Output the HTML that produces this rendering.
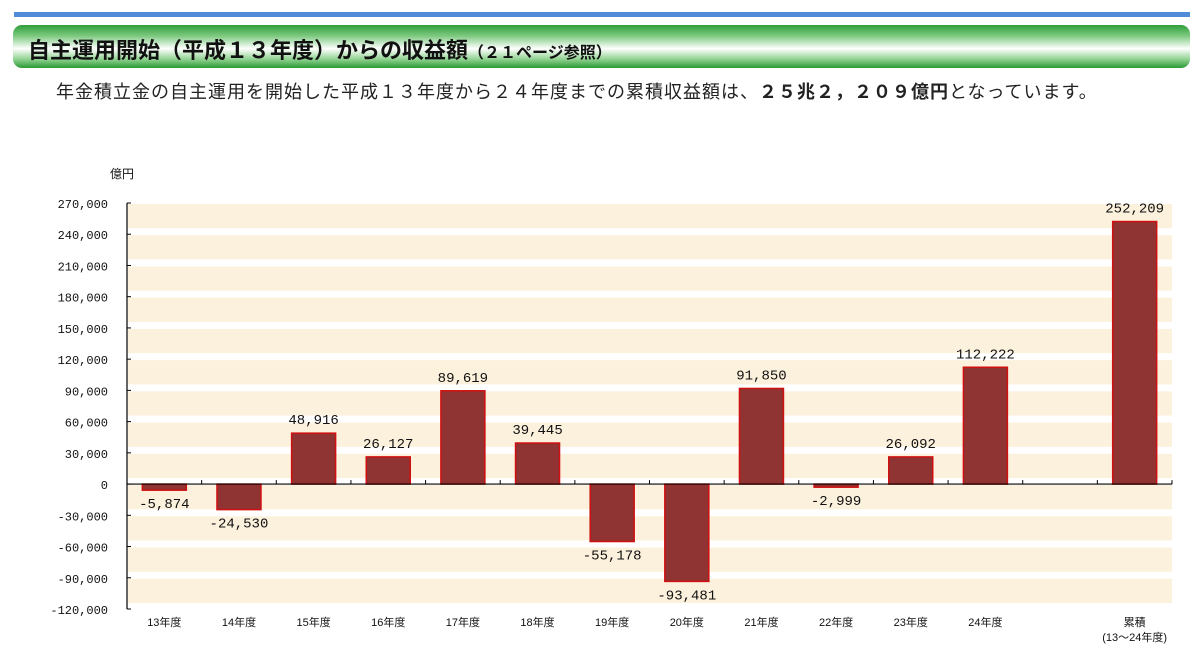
<!DOCTYPE html>
<html><head><meta charset="utf-8"><style>
body{margin:0;width:1200px;height:650px;background:#fff;font-family:"Liberation Sans","Noto Sans CJK JP",sans-serif;overflow:hidden;position:relative}
#topline{position:absolute;left:14px;top:12px;width:1176px;height:5px;background:#4f8bd6}
#band{position:absolute;left:13px;top:25px;width:1177px;height:43px;border-radius:9px;background:linear-gradient(#2f9e3a 0%,#7cc97f 25%,#ffffff 55%,#8fd18f 80%,#2a9a35 100%)}
#title{position:absolute;left:28px;top:33px;font-size:22px;font-weight:bold;color:#111;white-space:nowrap}
#title small{font-size:16px}
#sub{position:absolute;left:56px;top:78px;font-size:18px;color:#222;letter-spacing:1px;white-space:nowrap}
</style></head><body>
<div id="topline"></div>
<div id="band"></div>
<div id="title">自主運用開始（平成１３年度）からの収益額<small>（２１ページ参照）</small></div>
<div id="sub">年金積立金の自主運用を開始した平成１３年度から２４年度までの累積収益額は、<b>２５兆２，２０９億円</b>となっています。</div>
<svg id="chart" width="1200" height="650" style="position:absolute;left:0;top:0"></svg>
<script>
const categories=["13年度","14年度","15年度","16年度","17年度","18年度","19年度","20年度","21年度","22年度","23年度","24年度","","累積"];
const values=[-5874,-24530,48916,26127,89619,39445,-55178,-93481,91850,-2999,26092,112222,null,252209];
const valueLabels=["-5,874","-24,530","48,916","26,127","89,619","39,445","-55,178","-93,481","91,850","-2,999","26,092","112,222","","252,209"];
const yTicks=[270000,240000,210000,180000,150000,120000,90000,60000,30000,0,-30000,-60000,-90000,-120000];
const yTickLabels=["270,000","240,000","210,000","180,000","150,000","120,000","90,000","60,000","30,000","0","-30,000","-60,000","-90,000","-120,000"];
const NS="http://www.w3.org/2000/svg",svg=document.getElementById('chart');
const X0=127,X1=1172,yMax=270000,yMin=-120000,YT=203,YB=609;
const slot=(X1-X0)/categories.length;
const y=v=>YT+(yMax-v)/(yMax-yMin)*(YB-YT);
const xc=i=>X0+slot*(i+0.5);
const MONO='"Liberation Mono","Noto Sans CJK JP",monospace';
function mk(t,a,txt){const e=document.createElementNS(NS,t);for(const k in a)e.setAttribute(k,a[k]);if(txt!==undefined)e.textContent=txt;svg.appendChild(e);return e;}
for(let i=0;i<yTicks.length-1;i++){
 const s=mk('rect',{x:X0+1,y:y(yTicks[i])+1,width:X1-X0-1,height:y(yTicks[i+1])-y(yTicks[i])-7,fill:'#fcf1dd'});
 
 
}
yTicks.forEach((v,i)=>{
 const t=mk('text',{x:108,y:y(v)+5,'text-anchor':'end','font-size':12,fill:'#111','font-family':MONO},yTickLabels[i]);
 
 
 mk('line',{x1:X0,x2:X0+4,y1:y(v),y2:y(v),stroke:'#000'});
});
const u=mk('text',{x:110,y:178,'font-size':12,fill:'#111'},'億円');


mk('line',{x1:X0,x2:X0,y1:YT,y2:YB,stroke:'#000','stroke-width':1.2});
categories.forEach((c,i)=>{
 const v=values[i];
 if(v!==null){
  const r=mk('rect',{x:xc(i)-22,y:Math.min(y(v),y(0)),width:44,height:Math.abs(y(v)-y(0)),fill:'#8f3333',stroke:'#d01010','stroke-width':1.5});
  
  
  const ly=v>=0?y(v)-9:y(v)+18;
  const l=mk('text',{x:xc(i),y:ly,'text-anchor':'middle','font-size':14,fill:'#111','font-family':MONO},valueLabels[i]);
  
  
 }
 if(c==='累積'){
  const a=mk('text',{x:xc(i),y:626,'text-anchor':'middle','font-size':11,fill:'#111'},'累積');
  
  
  const b=mk('text',{x:xc(i),y:641,'text-anchor':'middle','font-size':11,fill:'#111'},'(13～24年度)');
  
  
 } else if(c){
  const a=mk('text',{x:xc(i),y:626,'text-anchor':'middle','font-size':11,fill:'#111'},c);
  
  
 }
});
mk('line',{x1:X0,x2:X1,y1:y(0),y2:y(0),stroke:'#000','stroke-width':1.2});
for(let i=1;i<=categories.length;i++)mk('line',{x1:X0+slot*i,x2:X0+slot*i,y1:y(0),y2:y(0)-4,stroke:'#000'});
</script>
</body></html>
